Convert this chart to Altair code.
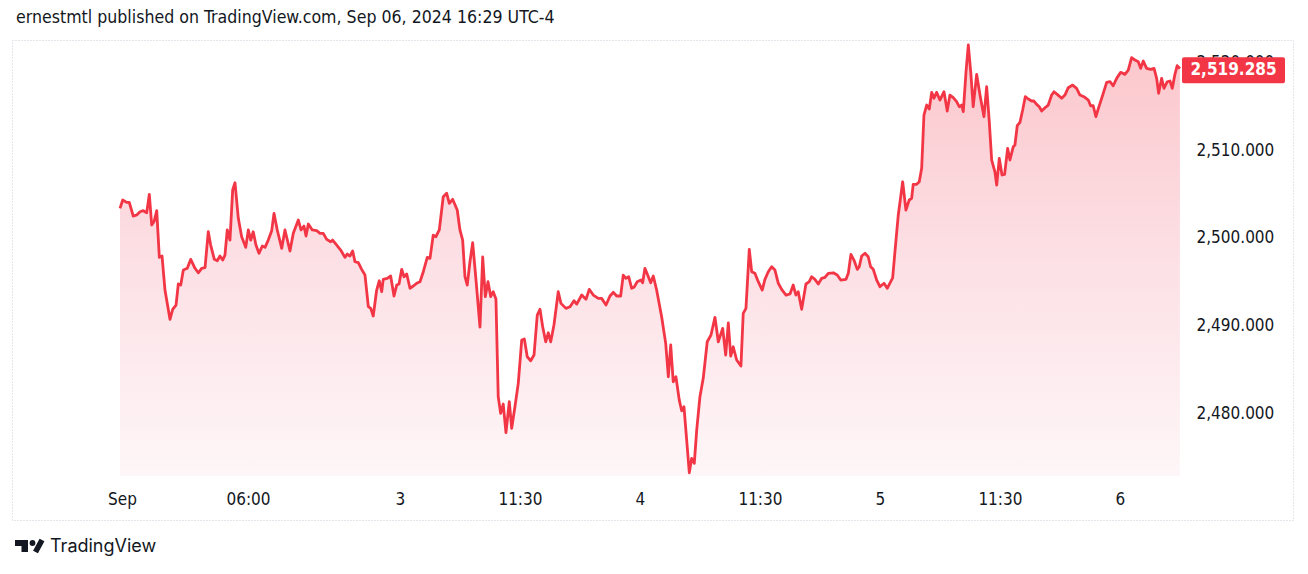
import json
import altair as alt
import pandas as pd

# ---- data (trading hours since first bar, price) ----
t_hours = [
    0, 0.26, 0.64, 0.89, 1.27, 1.60, 1.92, 2.23, 2.56, 2.81,
    3.04, 3.26, 3.52, 3.77, 4.03, 4.31, 4.79, 5.05, 5.37, 5.59,
    5.82, 6.07, 6.45, 6.78, 7.19, 7.50, 7.83, 8.15, 8.46, 8.69,
    9.04, 9.32, 9.58, 9.84, 10.06, 10.28, 10.54, 10.80, 11.02, 11.34,
    11.66, 12.05, 12.30, 12.53, 12.77, 13.03, 13.32, 13.64, 13.90, 14.21,
    14.54, 14.76, 15.07, 15.50, 15.81, 16.29, 16.61, 17.09, 17.35, 17.63,
    17.83, 18.05, 18.43, 18.85, 19.17, 19.48, 19.81, 20.19, 20.38, 20.77,
    21.15, 21.56, 21.78, 22.04, 22.30, 22.52, 22.84, 23.16, 23.48, 23.80,
    24.03, 24.27, 24.60, 24.85, 25.08, 25.23, 25.62, 25.94, 26.26, 26.52,
    26.74, 27.00, 27.22, 27.48, 27.79, 28.11, 28.43, 28.75, 29.07, 29.45,
    29.71, 30.02, 30.28, 30.60, 30.98, 31.31, 31.56, 31.88, 32.32, 32.58,
    32.84, 33.06, 33.28, 33.54, 33.80, 34.12, 34.50, 34.76, 35.01, 35.27,
    35.53, 35.77, 36.03, 36.25, 36.48, 36.73, 36.99, 37.31, 37.54, 37.85,
    38.17, 38.50, 38.75, 39.03, 39.36, 39.68, 39.99, 40.25, 40.51, 40.80,
    41.05, 41.28, 41.59, 42.00, 42.26, 42.74, 43.13, 43.51, 43.77, 44.25,
    44.66, 44.97, 45.36, 45.84, 46.16, 46.58, 46.96, 47.27, 47.60, 47.98,
    48.23, 48.49, 48.75, 49.04, 49.26, 49.57, 49.93, 50.09, 50.31, 50.57,
    50.86, 51.11, 51.43, 51.91, 52.30, 52.55, 52.78, 53.02, 53.28, 53.60,
    53.83, 54.05, 54.31, 54.56, 54.79, 55.04, 55.27, 55.58, 55.90, 56.28,
    56.64, 57.02, 57.34, 57.76, 58.05, 58.30, 58.53, 58.77, 59.10, 59.51,
    59.73, 59.99, 60.31, 60.54, 60.85, 61.17, 61.55, 61.81, 62.13, 62.45,
    62.77, 63.09, 63.41, 63.83, 64.21, 64.52, 64.78, 65.00, 65.33, 65.74,
    66.06, 66.29, 66.60, 66.92, 67.25, 67.56, 67.88, 68.36, 68.74, 69.07,
    69.58, 69.80, 70.05, 70.34, 70.66, 70.85, 71.08, 71.40, 71.71, 71.94,
    72.19, 72.52, 72.83, 73.22, 73.53, 74.05, 74.27, 74.59, 75.01, 75.32,
    75.64, 75.87, 76.02, 76.35, 76.60, 76.83, 77.05, 77.31, 77.56, 77.79,
    78.01, 78.26, 78.58, 78.97, 79.28, 79.54, 79.86, 80.18, 80.43, 80.66,
    80.82, 81.08, 81.30, 81.53, 81.77, 82.10, 82.42, 82.80, 83.06, 83.31,
    83.54, 83.85, 84.02, 84.27, 84.53, 84.78, 85.07, 85.29, 85.61, 85.77,
    85.99, 86.25, 86.51, 86.76, 87.05, 87.37, 87.59, 87.85, 88.10, 88.33,
    88.65, 88.96, 89.29, 89.51, 89.82, 90.25, 90.56, 90.88, 91.30, 91.68,
    92.00, 92.38, 92.80, 93.02, 93.27, 93.53, 93.75, 94.18, 94.56, 94.88,
    95.19, 95.52, 95.90, 96.31, 96.63, 96.95, 97.27, 97.59, 97.82, 98.07,
    98.39, 98.78, 99.10, 99.35, 99.54, 99.83, 100.05, 100.37, 100.63, 100.85,
    101.10, 101.32, 101.58,
]

price = [
    2503.35, 2504.30, 2504.03, 2504.03, 2502.47, 2502.59, 2502.96, 2503.08, 2502.85, 2504.95,
    2501.45, 2501.82, 2503.08, 2497.76, 2497.91, 2494.03, 2490.69, 2491.83, 2492.32, 2494.72,
    2494.60, 2496.31, 2496.51, 2497.53, 2496.51, 2496.00, 2496.51, 2496.58, 2500.68, 2499.16,
    2497.53, 2497.37, 2497.91, 2497.45, 2498.02, 2500.88, 2499.73, 2505.44, 2506.27, 2502.21,
    2500.11, 2498.90, 2500.88, 2499.73, 2500.68, 2499.16, 2498.22, 2499.05, 2498.90, 2499.73,
    2500.80, 2502.78, 2500.88, 2498.79, 2500.88, 2498.48, 2500.50, 2502.02, 2500.88, 2501.33,
    2500.19, 2501.56, 2500.88, 2500.80, 2500.50, 2500.50, 2499.81, 2499.54, 2499.73, 2499.16,
    2498.59, 2497.76, 2498.14, 2497.91, 2498.48, 2497.26, 2497.15, 2496.39, 2495.74, 2492.13,
    2491.94, 2491.07, 2494.03, 2495.09, 2493.84, 2495.25, 2495.37, 2495.63, 2493.35, 2494.60,
    2494.72, 2496.39, 2495.55, 2495.86, 2494.23, 2494.49, 2494.80, 2494.98, 2496.12, 2497.76,
    2497.65, 2500.30, 2500.11, 2500.88, 2504.67, 2505.06, 2503.92, 2504.38, 2503.16, 2500.88,
    2499.73, 2495.55, 2494.60, 2497.26, 2499.43, 2495.17, 2489.81, 2497.80, 2493.27, 2494.98,
    2493.27, 2493.84, 2493.00, 2481.86, 2479.97, 2481.03, 2477.76, 2481.29, 2478.26, 2480.72,
    2483.39, 2488.33, 2488.44, 2486.42, 2485.97, 2486.62, 2491.18, 2491.83, 2489.85, 2488.13,
    2489.16, 2488.13, 2490.04, 2493.84, 2492.51, 2491.94, 2492.13, 2492.81, 2492.43, 2493.46,
    2492.97, 2494.11, 2493.46, 2493.08, 2493.08, 2492.32, 2493.35, 2493.77, 2493.35, 2493.35,
    2495.74, 2495.37, 2495.55, 2494.23, 2494.34, 2494.98, 2495.17, 2494.86, 2496.51, 2495.74,
    2494.86, 2495.63, 2494.03, 2490.99, 2487.95, 2484.14, 2487.76, 2483.57, 2484.14, 2481.48,
    2480.26, 2480.72, 2476.92, 2473.19, 2474.84, 2474.26, 2478.06, 2481.86, 2483.99, 2488.13,
    2488.90, 2490.92, 2488.13, 2489.66, 2486.62, 2490.27, 2486.50, 2487.56, 2486.05, 2485.36,
    2491.37, 2491.94, 2498.67, 2496.12, 2495.94, 2494.98, 2494.03, 2495.25, 2496.12, 2496.69,
    2496.31, 2494.80, 2494.11, 2493.46, 2493.58, 2494.60, 2493.46, 2493.84, 2491.83, 2494.72,
    2494.98, 2495.55, 2495.25, 2494.72, 2495.37, 2495.48, 2495.94, 2496.00, 2495.74, 2495.17,
    2495.25, 2495.94, 2498.10, 2497.45, 2496.39, 2496.69, 2497.91, 2498.22, 2497.83, 2496.69,
    2496.39, 2495.17, 2494.41, 2494.80, 2494.23, 2495.43, 2498.40, 2502.59, 2506.38, 2503.16,
    2504.30, 2504.49, 2506.09, 2506.09, 2506.38, 2507.91, 2513.99, 2515.13, 2514.68, 2516.58,
    2515.90, 2516.58, 2515.70, 2516.65, 2514.45, 2516.27, 2515.97, 2515.51, 2514.94, 2515.13,
    2514.37, 2518.93, 2521.98, 2518.93, 2514.94, 2518.63, 2516.27, 2513.80, 2517.22, 2513.23,
    2508.86, 2507.52, 2506.01, 2509.05, 2507.15, 2507.23, 2510.19, 2508.86, 2510.38, 2510.57,
    2512.77, 2513.16, 2514.56, 2516.08, 2515.82, 2515.59, 2515.59, 2515.21, 2514.94, 2514.45,
    2514.82, 2515.13, 2516.27, 2516.65, 2516.35, 2515.90, 2516.27, 2517.11, 2517.41, 2517.04,
    2516.27, 2516.08, 2515.70, 2515.05, 2515.05, 2513.80, 2514.68, 2516.27, 2517.72, 2517.79,
    2517.33, 2518.18, 2518.86, 2518.63, 2519.12, 2520.53, 2520.27, 2520.07, 2519.32, 2520.15,
    2519.32, 2519.20, 2519.32, 2518.18, 2516.47, 2518.18, 2517.04, 2517.79, 2517.87, 2517.04,
    2518.63, 2519.62, 2519.285,
]

tick_pos = [0.19, 12.27, 26.83, 38.33, 49.83, 61.33, 72.83, 84.33, 95.83]
tick_text = ["Sep", "06:00", "3", "11:30", "4", "11:30", "5", "11:30", "6"]
price_ticks = [2480, 2490, 2500, 2510, 2520]
title_text = "ernestmtl published on TradingView.com, Sep 06, 2024 16:29 UTC-4"
brand_text = "TradingView"

X_DOMAIN = [-10.35, 101.78]
Y_DOMAIN = [2472.82, 2522.55]
W, H = 1170, 436

FONT = "DejaVu Sans Condensed"
TXT = "#131722"
RED = "#F23645"

df = pd.DataFrame({"t": t_hours, "price": price})
last_df = pd.DataFrame({"t": [t_hours[-1]], "price": [price[-1]]})
one = pd.DataFrame({"k": [0]})

label_expr = f"{json.dumps(tick_text)}[indexof({json.dumps(tick_pos)}, datum.value)]"

xenc = alt.X(
    "t:Q",
    scale=alt.Scale(domain=X_DOMAIN, nice=False, zero=False),
    axis=alt.Axis(
        values=tick_pos, labelExpr=label_expr, title=None, ticks=False, tickSize=0,
        domain=False, grid=False, labelPadding=15, labelFontSize=17, labelFont=FONT,
        labelColor=TXT, labelFlush=False, labelOverlap=False,
    ),
)
yenc = alt.Y(
    "price:Q",
    scale=alt.Scale(domain=Y_DOMAIN, nice=False, zero=False),
    axis=alt.Axis(
        orient="right", values=price_ticks, format=",.3f", title=None, ticks=False,
        tickSize=0, domain=False, grid=False, labelPadding=14, labelAlign="left",
        labelFontSize=17, labelFont=FONT, labelColor=TXT, labelFlush=False,
        labelOverlap=False,
    ),
)

gradient = alt.Gradient(
    gradient="linear",
    stops=[
        alt.GradientStop(color="#FBC6CB", offset=0),
        alt.GradientStop(color="#FCE0E5", offset=0.5),
        alt.GradientStop(color="#FEF6F8", offset=1),
    ],
    x1=0, x2=0, y1=0, y2=1,
)

base = alt.Chart(df)
area = base.mark_area(fill=gradient).encode(x=xenc, y=yenc, y2=alt.datum(Y_DOMAIN[0]))
line = base.mark_line(color=RED, strokeWidth=2.8, strokeJoin="round").encode(x=xenc, y=yenc)

frame = alt.Chart(one).mark_rect(
    fillOpacity=0, stroke="#C9CDD8", strokeWidth=1, strokeDash=[1, 2]
).encode(x=alt.value(0.5), x2=alt.value(1281.5), y=alt.value(0.5), y2=alt.value(480.5))

tag = alt.Chart(last_df).mark_rect(
    color=RED, cornerRadius=2, yOffset=-11.5, y2Offset=14.5
).encode(x=alt.value(1170), x2=alt.value(1273), y=yenc, y2=alt.Y2("price:Q"))

tag_text = alt.Chart(last_df).mark_text(
    color="white", font=FONT, fontSize=17, fontWeight="bold", align="center",
    baseline="middle", dy=1.7,
).encode(x=alt.value(1221.5), y=yenc, text=alt.Text("price:Q", format=",.3f"))

title = alt.Chart(one).mark_text(
    text=title_text, align="left", baseline="alphabetic", font=FONT, fontSize=17.6, color=TXT
).encode(x=alt.value(4), y=alt.value(-17.5))

# TradingView logo (decorative)
logo_bar = alt.Chart(one).mark_rect(color=TXT).encode(
    x=alt.value(3), x2=alt.value(16), y=alt.value(500), y2=alt.value(506))
logo_stem = alt.Chart(one).mark_rect(color=TXT).encode(
    x=alt.value(9.5), x2=alt.value(16), y=alt.value(505), y2=alt.value(512))
logo_dot = alt.Chart(one).mark_point(
    shape="circle", filled=True, size=34, color=TXT, opacity=1
).encode(x=alt.value(20.5), y=alt.value(503))
logo_slash = alt.Chart(one).mark_rule(color=TXT, strokeWidth=5.5, strokeCap="butt").encode(
    x=alt.value(23.5), x2=alt.value(30), y=alt.value(512), y2=alt.value(500))
brand = alt.Chart(one).mark_text(
    text=brand_text, align="left", baseline="middle", font="Inter", fontSize=18, fontWeight=400, color=TXT
).encode(x=alt.value(38), y=alt.value(507))

chart = alt.layer(
    frame, area, line, tag, tag_text, title, logo_bar, logo_stem, logo_dot, logo_slash, brand
).properties(
    width=W, height=H,
    autosize=alt.AutoSizeParams(type="none"),
    padding={"left": 4, "top": 32, "right": 118, "bottom": 90},
    background="white",
).configure_view(stroke=None)

chart.save("out.html", embed_options={"renderer": "svg", "actions": False})
